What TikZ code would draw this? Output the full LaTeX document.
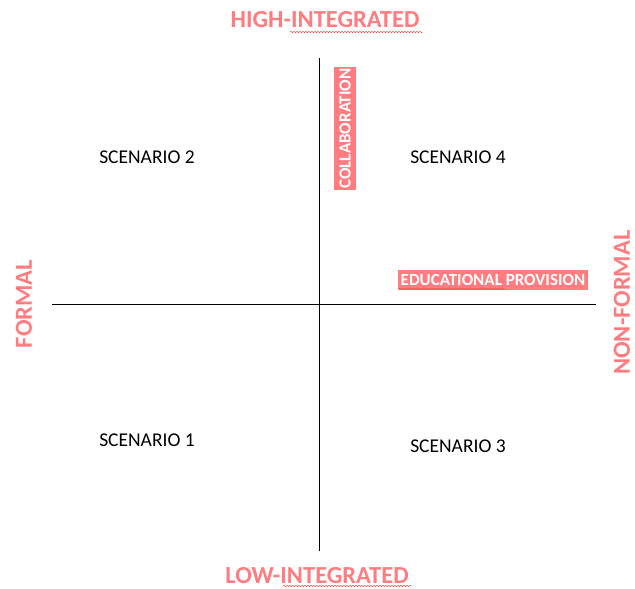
\documentclass[tikz,border=0pt]{standalone}
\usepackage{fontspec}
\setmainfont{Carlito}
\usetikzlibrary{decorations.pathmorphing}
\definecolor{salmon}{HTML}{FF7C80}
\tikzset{
  axislabel/.style={text=salmon, font=\fontsize{24.5}{28}\selectfont\bfseries, inner sep=0pt},
  scenario/.style={font=\fontsize{19.5}{22}\selectfont, inner sep=0pt},
  tag/.style={fill=salmon, text=white, font=\fontsize{17}{19}\selectfont\bfseries, inner sep=0pt},
  axis/.style={line width=0.8pt, black},
  spell/.style={draw=red!80, line width=0.4pt, decorate, decoration={snake, amplitude=0.8pt, segment length=3pt}}
}
\begin{document}
\begin{tikzpicture}[x=1pt,y=-1pt]
\useasboundingbox (0,0) rectangle (635,589);
% axes
\coordinate (top) at (319,58);
\coordinate (bottom) at (319,551);
\coordinate (left) at (52,304);
\coordinate (right) at (596,304);
\draw[axis] (top) -- (bottom);
\draw[axis] (left) -- (right);
% axis labels
\node[axislabel] (high) at (325,20) {HIGH-INTEGRATED};
\node[axislabel] (low) at (317,576) {LOW-INTEGRATED};
\node[axislabel, rotate=90] (formal) at (24,304) {FORMAL};
\node[axislabel, rotate=90, anchor=west] (nonformal) at (622,375) {NON-FORMAL};
% quadrants
\node[scenario] (s2) at (147,157) {SCENARIO 2};
\node[scenario] (s4) at (458,157) {SCENARIO 4};
\node[scenario] (s1) at (147,440) {SCENARIO 1};
\node[scenario] (s3) at (458,446) {SCENARIO 3};
% highlighted tags
\node[tag, rotate=90, minimum height=22pt, minimum width=123pt] (collab) at (345,128.5) {COLLABORATION};
\node[tag, minimum width=190pt, minimum height=20pt] (edu) at (493,280) {EDUCATIONAL PROVISION};
% spell-check underlines
\coordinate (hw1) at (290,32);
\coordinate (hw2) at (423,32);
\draw[spell] (hw1) -- (hw2);
\coordinate (lw1) at (283,586);
\coordinate (lw2) at (412,586);
\draw[spell] (lw1) -- (lw2);
\coordinate (ew1) at (399,289);
\coordinate (ew2) at (505,289);
\draw[spell] (ew1) -- (ew2);
\end{tikzpicture}
\end{document}
